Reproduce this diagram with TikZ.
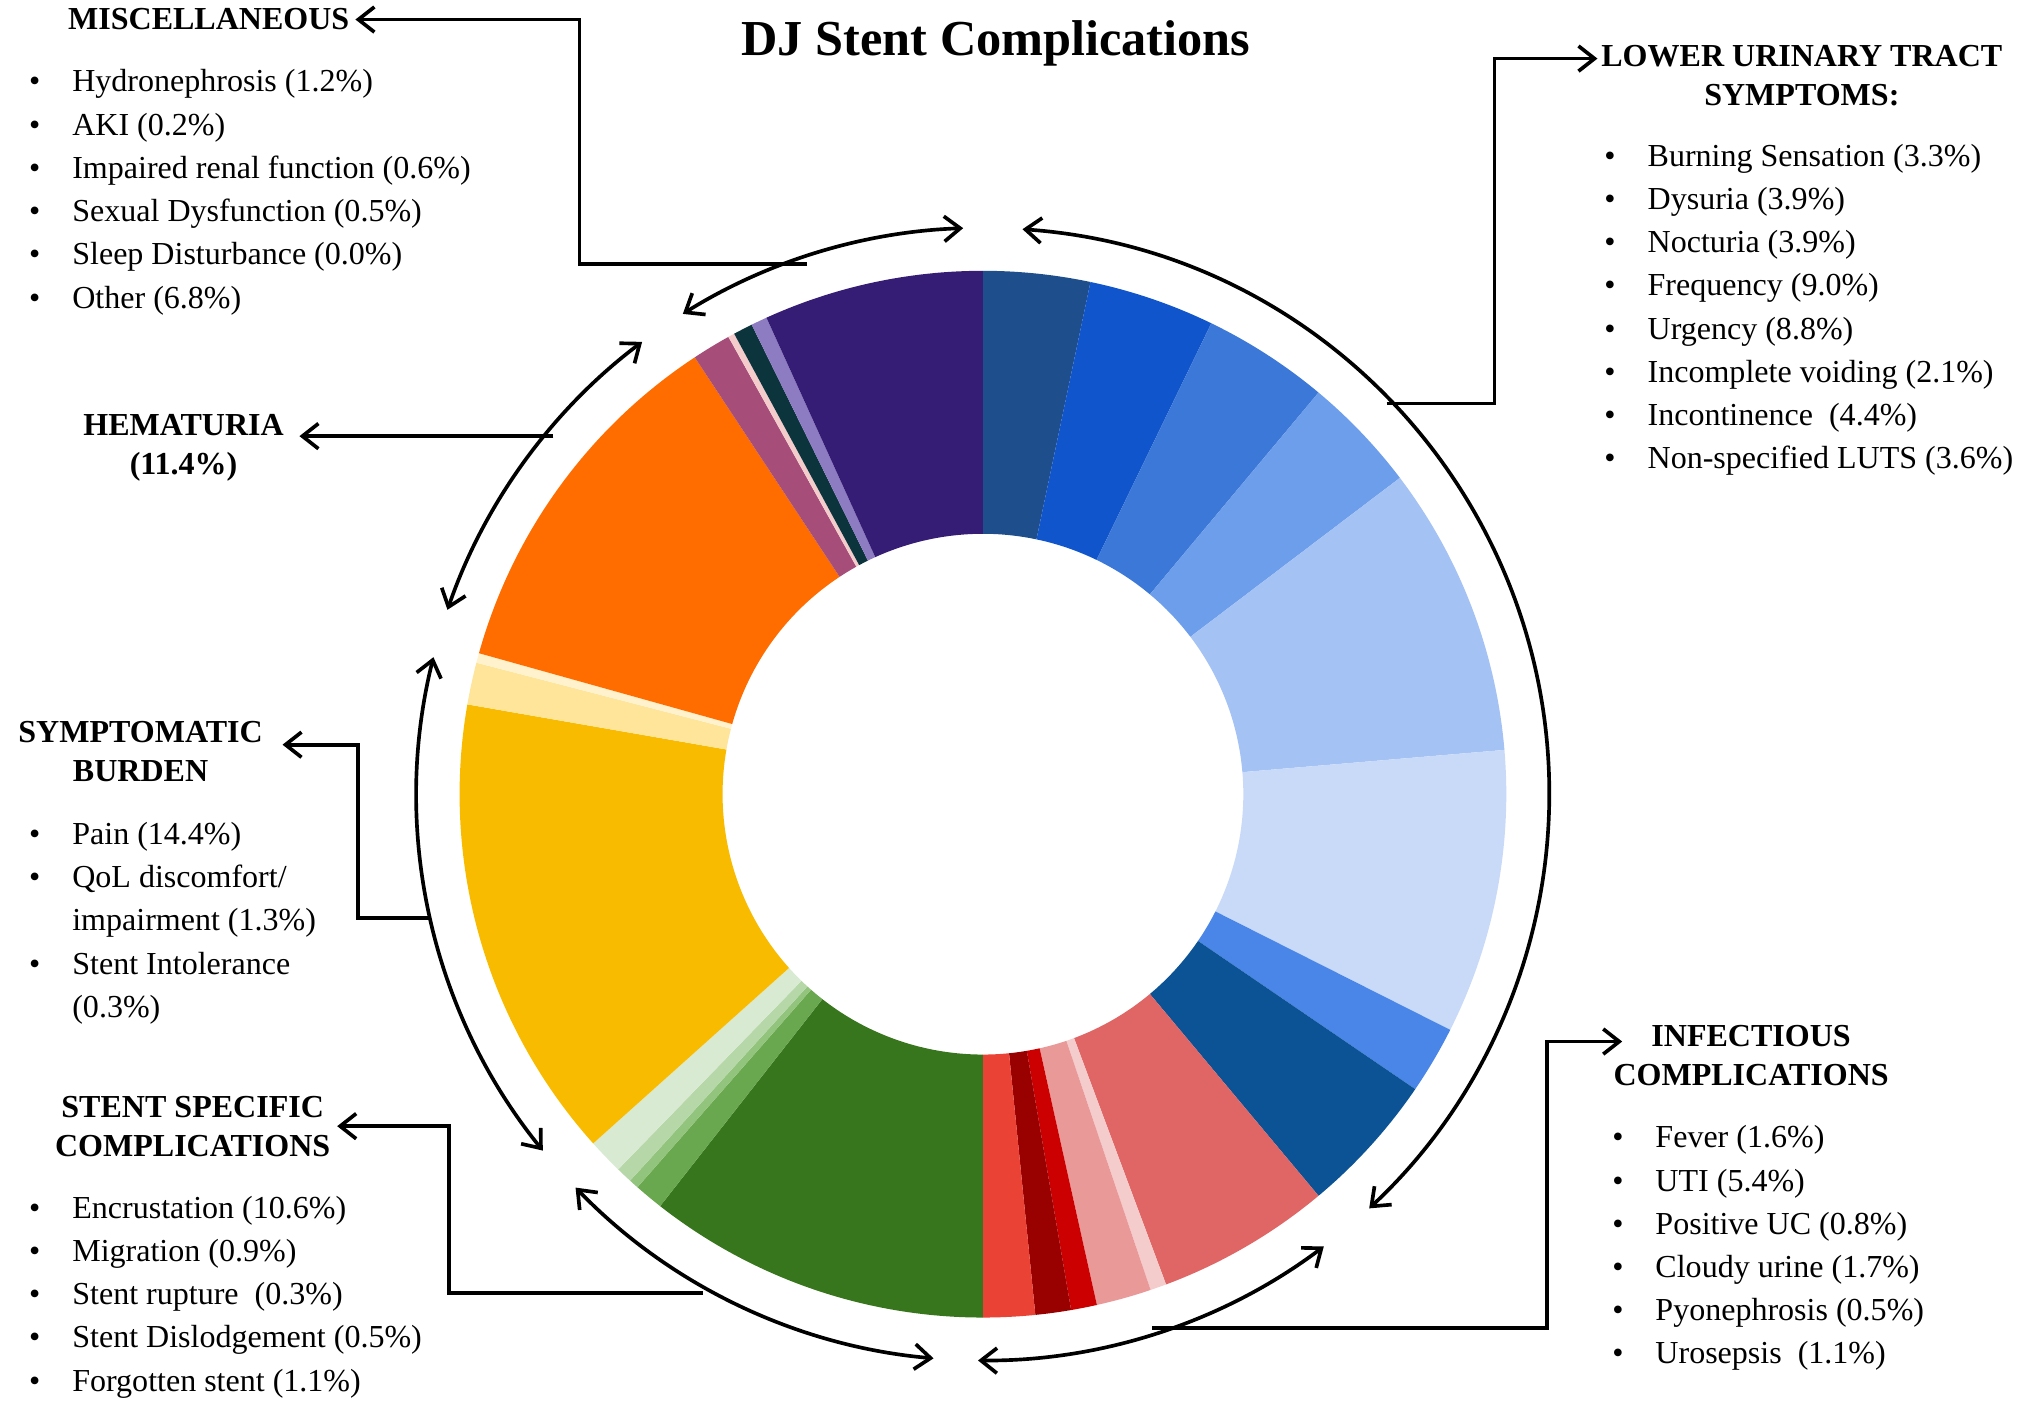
\documentclass[tikz,border=0pt]{standalone}
\usepackage{fontspec}
\setmainfont{Liberation Serif}
\usetikzlibrary{arrows.meta,positioning,calc}
\definecolor{titlegray}{HTML}{222222}
\tikzset{
  arcline/.style={line width=1.6pt,{Straight Barb[length=7pt,width=11pt]}-{Straight Barb[length=7pt,width=11pt]}},
  leader/.style={line width=1.6pt,-{Straight Barb[length=7pt,width=11pt]}},
  heading/.style={font=\fontsize{14}{17}\selectfont\bfseries,align=center,inner sep=0pt},
  itemlist/.style={font=\fontsize{14}{17.5}\selectfont,inner sep=0pt,anchor=north west}
}
\newcommand{\itemrows}[1]{\renewcommand{\arraystretch}{1.08}\begin{tabular}{@{}l@{\hspace{14pt}}l@{}}#1\end{tabular}}
\begin{document}
\begin{tikzpicture}[x=0.02cm,y=-0.02cm]
  \useasboundingbox (0,0) rectangle (1560,1085);
  \node[font=\fontsize{22}{26}\selectfont\bfseries] (title) at (765,33) {DJ Stent Complications};

  % Donut
  \begin{scope}[shift={(755,610)},yscale=-1]
    \foreach \v/\c [remember=\e as \s (initially 0), evaluate=\v as \e using \s+\v] in
      {3.3/1F4E8C,3.9/1155CC,3.9/3C78D8,3.6/6D9EEB,9.0/A4C2F4,8.8/C9DAF8,2.1/4A86E8,4.4/0B5394,
       5.4/E06666,0.5/F4CCCC,1.7/EA9999,0.8/CC0000,1.1/990000,1.6/EA4335,
       10.6/38761D,0.9/6AA84F,0.3/93C47D,0.5/B6D7A8,1.1/D9EAD3,
       14.4/F9BB00,1.3/FFE599,0.3/FFF2CC,
       11.4/FF6D01,
       1.2/A64D79,0.2/F4CCCC,0.6/0C343D,0.5/8E7CC3,6.8/351C75}
    {
      \pgfmathsetmacro{\aa}{90-\s*3.5928}
      \pgfmathsetmacro{\ab}{90-\e*3.5928}
      \definecolor{slice}{HTML}{\c}
      \fill[slice] (\aa:402) arc[start angle=\aa,end angle=\ab,radius=402]
        -- (\ab:200) arc[start angle=\ab,end angle=\aa,radius=200] -- cycle;
    }
    % group arcs
    \draw[arcline] (86:435) arc[start angle=86,end angle=-47,radius=435];
    \draw[arcline] (-53:435) arc[start angle=-53,end angle=-90.5,radius=435];
    \draw[arcline] (-95:435) arc[start angle=-95,end angle=-136,radius=435];
    \draw[arcline] (-141:435) arc[start angle=-141,end angle=-194,radius=435];
    \draw[arcline] (161:435) arc[start angle=161,end angle=127,radius=435];
    \draw[arcline] (122:435) arc[start angle=122,end angle=92,radius=435];
  \end{scope}

  % Miscellaneous
  \node[heading,anchor=west] (misc) at (52,15) {MISCELLANEOUS};
  \node[itemlist] (misclist) at (22,47) {\itemrows{
    \textbullet & Hydronephrosis (1.2\%)\\ \textbullet & AKI (0.2\%)\\
    \textbullet & Impaired renal function (0.6\%)\\ \textbullet & Sexual Dysfunction (0.5\%)\\
    \textbullet & Sleep Disturbance (0.0\%)\\ \textbullet & Other (6.8\%)}};
  \coordinate (miscA) at (620,203);
  \coordinate (miscB) at (445,203);
  \coordinate (miscC) at (445,15);
  \draw[leader] (miscA) -- (miscB) -- (miscC) -- (misc.east -| 273,0);

  % Lower urinary tract symptoms
  \node[heading] (luts) at (1384,58) {LOWER URINARY TRACT\\SYMPTOMS:};
  \node[itemlist] (lutslist) at (1232,104) {\itemrows{
    \textbullet & Burning Sensation (3.3\%)\\ \textbullet & Dysuria (3.9\%)\\
    \textbullet & Nocturia (3.9\%)\\ \textbullet & Frequency (9.0\%)\\
    \textbullet & Urgency (8.8\%)\\ \textbullet & Incomplete voiding (2.1\%)\\
    \textbullet & Incontinence~ (4.4\%)\\ \textbullet & Non-specified LUTS (3.6\%)}};
  \coordinate (lutsA) at (1065,310);
  \coordinate (lutsB) at (1148,310);
  \coordinate (lutsC) at (1148,45);
  \coordinate (lutsD) at (1227,45);
  \draw[leader] (lutsA) -- (lutsB) -- (lutsC) -- (lutsD);

  % Hematuria
  \node[heading] (hema) at (141,344) {HEMATURIA\\(11.4\%)};
  \coordinate (hemaA) at (425,335);
  \coordinate (hemaB) at (230,335);
  \draw[leader] (hemaA) -- (hemaB);

  % Symptomatic burden
  \node[heading] (symp) at (108,577) {SYMPTOMATIC\\BURDEN};
  \node[itemlist] (symplist) at (22,625) {\itemrows{
    \textbullet & Pain (14.4\%)\\ \textbullet & QoL discomfort/\\ & impairment (1.3\%)\\
    \textbullet & Stent Intolerance\\ & (0.3\%)}};
  \coordinate (sympA) at (330,705);
  \coordinate (sympB) at (275,705);
  \coordinate (sympC) at (275,572);
  \coordinate (sympD) at (217,572);
  \draw[leader] (sympA) -- (sympB) -- (sympC) -- (sympD);

  % Stent specific complications
  \node[heading] (stent) at (148,865) {STENT SPECIFIC\\COMPLICATIONS};
  \node[itemlist] (stentlist) at (22,912) {\itemrows{
    \textbullet & Encrustation (10.6\%)\\ \textbullet & Migration (0.9\%)\\
    \textbullet & Stent rupture~ (0.3\%)\\ \textbullet & Stent Dislodgement (0.5\%)\\
    \textbullet & Forgotten stent (1.1\%)}};
  \coordinate (stentA) at (540,993);
  \coordinate (stentB) at (345,993);
  \coordinate (stentC) at (345,865);
  \coordinate (stentD) at (259,865);
  \draw[leader] (stentA) -- (stentB) -- (stentC) -- (stentD);

  % Infectious complications
  \node[heading] (infect) at (1345,811) {INFECTIOUS\\COMPLICATIONS};
  \node[itemlist] (infectlist) at (1238,858) {\itemrows{
    \textbullet & Fever (1.6\%)\\ \textbullet & UTI (5.4\%)\\
    \textbullet & Positive UC (0.8\%)\\ \textbullet & Cloudy urine (1.7\%)\\
    \textbullet & Pyonephrosis (0.5\%)\\ \textbullet & Urosepsis~ (1.1\%)}};
  \coordinate (infectA) at (885,1020);
  \coordinate (infectB) at (1188,1020);
  \coordinate (infectC) at (1188,800);
  \coordinate (infectD) at (1246,800);
  \draw[leader] (infectA) -- (infectB) -- (infectC) -- (infectD);
\end{tikzpicture}
\end{document}
